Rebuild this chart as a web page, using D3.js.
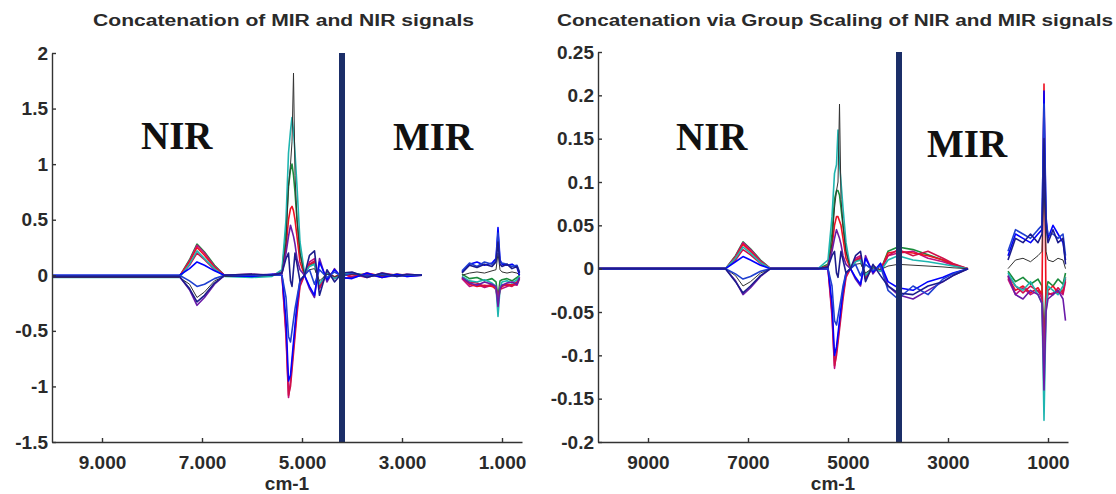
<!DOCTYPE html>
<html>
<head>
<meta charset="utf-8">
<script src="https://cdn.jsdelivr.net/npm/d3@7"></script>
<style>
  body { margin: 0; background: #fff; }
  svg { display: block; }
  .tick text { font-family: "Liberation Sans", Arial, sans-serif; font-weight: bold; font-size: 19px; fill: #2a2a2a; }
</style>
</head>
<body>
<svg id="chart" width="1116" height="494"></svg>
<script>
// wavenumbers shared by both panels (cm-1), null values mark the gap 2600..1800
var wavenumbers = [10000, 8000, 7450, 7250, 7100, 6950, 6750, 6550, 6000, 5600,
  5400, 5320, 5270, 5230, 5200, 5170, 5140, 5100, 5040, 4950,
  4850, 4750, 4650, 4500, 4350, 4200, 4000, 3700, 3400, 3100,
  2900, 2600, 2200, 1800, 1650, 1500, 1350, 1200, 1120, 1080,
  1040, 1000, 900, 800, 700, 650];

var seriesColors = ["#1a8c3c", "#c01080", "#ee1122", "#d0104a", "#1fb5b0",
  "#333333", "#6a1aa8", "#0000ff", "#2040d0", "#1c1c8c"];

// left panel: plain concatenation
var leftGreen = [-0.01, -0.01, -0.01, 0.14, 0.28, 0.21, 0.09, 0, 0, 0, 0.03, 0.4, 0.8, 0.95, 1.0, 0.9, 0.75, 0.5, 0.2, 0.01, 0.09, 0.11, -0.09, 0.02, -0.02, 0.02, 0.02, 0, -0.01, 0.01, 0, 0, null, 0.01, -0.03, -0.02, -0.05, -0.03, -0.06, -0.2, -0.05, -0.04, -0.03, -0.05, -0.02, 0];
var leftMagenta = [-0.01, -0.01, -0.01, 0.13, 0.27, 0.2, 0.08, 0, 0.01, 0, 0, -0.55, -1.1, -0.95, -0.8, -0.65, -0.5, -0.3, -0.08, 0, 0.12, 0.15, -0.12, 0.02, -0.03, 0.01, 0.01, -0.02, 0.02, 0, 0.01, 0, null, -0.03, -0.1, -0.08, -0.11, -0.09, -0.13, -0.25, -0.1, -0.12, -0.1, -0.08, -0.09, -0.03];
var leftRed = [-0.01, -0.01, -0.01, 0.12, 0.25, 0.18, 0.07, 0, 0, 0, 0.02, 0.25, 0.5, 0.6, 0.62, 0.58, 0.5, 0.35, 0.12, 0, 0.1, 0.12, -0.1, 0.03, -0.02, 0.02, -0.02, 0.02, -0.01, 0.01, 0, 0, null, -0.02, -0.08, -0.1, -0.09, -0.1, -0.12, -0.22, -0.14, -0.1, -0.08, -0.09, -0.06, -0.02];
var leftCrimson = [-0.01, -0.01, -0.01, 0.09, 0.2, 0.14, 0.05, 0, 0, 0, 0, -0.5, -1.08, -1.0, -0.85, -0.7, -0.55, -0.35, -0.1, 0, 0.1, 0.13, -0.11, 0.03, -0.02, 0.01, -0.01, 0.01, 0, 0, 0, 0, null, -0.02, -0.06, -0.07, -0.1, -0.08, -0.11, -0.2, -0.13, -0.09, -0.09, -0.1, -0.07, -0.02];
var leftCyan = [-0.02, -0.02, -0.02, 0.1, 0.22, 0.15, 0.06, -0.01, -0.02, -0.01, 0.05, 0.5, 1.1, 1.3, 1.42, 1.3, 1.1, 0.8, 0.3, 0.02, 0.08, 0.1, -0.08, 0.02, -0.03, 0.01, 0.02, -0.01, 0.01, 0, 0, 0, null, -0.01, -0.05, -0.06, -0.04, -0.07, -0.1, -0.37, -0.12, -0.06, -0.05, -0.07, -0.04, -0.01];
var leftGray = [-0.02, -0.02, -0.02, -0.08, -0.2, -0.15, -0.05, -0.01, -0.01, 0, 0.02, 0.3, 0.8, 1.0, 1.2, 1.82, 0.9, 0.5, 0.2, 0, 0.05, 0.06, -0.05, 0.01, -0.01, 0, 0.01, 0, 0, 0, 0, 0, null, 0, 0.02, 0.03, 0.02, 0.04, 0.05, 0.2, 0.05, 0.03, 0.02, 0.03, 0.02, 0];
var leftPurple = [-0.01, -0.01, -0.01, -0.13, -0.27, -0.2, -0.08, 0, 0, 0.01, 0.02, 0.2, 0.35, 0.45, 0.4, 0.35, 0.28, 0.15, 0.05, 0, -0.12, -0.2, 0.15, -0.06, 0.06, -0.03, -0.02, 0.01, -0.02, 0, -0.01, 0, null, -0.02, -0.07, -0.09, -0.06, -0.08, -0.1, -0.28, -0.12, -0.09, -0.07, -0.06, -0.08, -0.02];
var leftBlue = [0, 0, 0, 0.06, 0.12, 0.09, 0.04, 0, -0.01, 0.01, 0, -0.4, -0.95, -0.9, -0.75, -0.6, -0.45, -0.25, -0.05, 0, -0.1, -0.18, 0.12, -0.04, 0.05, -0.02, -0.03, 0.02, -0.02, 0.01, -0.01, 0, null, 0.03, 0.1, 0.12, 0.09, 0.11, 0.15, 0.43, 0.14, 0.1, 0.09, 0.1, 0.07, 0];
var leftRoyal = [0, 0, 0, -0.05, -0.1, -0.08, -0.03, 0, 0, 0, 0, -0.2, -0.55, -0.6, -0.5, -0.4, -0.3, -0.2, -0.05, 0, 0.05, -0.08, 0.05, -0.02, 0.03, -0.01, 0.02, -0.01, 0.01, -0.01, 0, 0, null, 0.04, 0.11, 0.08, 0.12, 0.1, 0.13, 0.38, 0.12, 0.11, 0.1, 0.08, 0.09, 0.03];
var leftNavy = [-0.01, -0.01, -0.01, -0.12, -0.24, -0.18, -0.07, 0, 0.01, 0, 0.02, 0.15, 0.2, -0.05, -0.1, 0.05, 0.2, 0.1, -0.05, 0, 0.18, 0.22, -0.18, 0.05, -0.06, 0.02, 0.03, -0.02, 0.02, -0.01, 0.01, 0, null, 0.02, 0.09, 0.07, 0.1, 0.08, 0.12, 0.3, 0.1, 0.08, 0.1, 0.06, 0.08, 0.02];

// right panel: group scaling
var rightGreen = [0, 0, 0, 0.015, 0.031, 0.023, 0.01, 0, 0, 0, 0.005, 0.04, 0.08, 0.09, 0.09, 0.085, 0.07, 0.05, 0.02, 0, 0.009, 0.011, -0.009, 0.002, -0.002, 0.02, 0.025, 0.022, 0.016, 0.01, 0.004, 0, null, -0.003, -0.015, -0.01, -0.018, -0.012, -0.02, -0.08, -0.025, -0.015, -0.02, -0.012, -0.018, -0.005];
var rightMagenta = [0, 0, 0, 0.014, 0.03, 0.022, 0.009, 0, 0, 0, 0, -0.055, -0.115, -0.095, -0.08, -0.065, -0.05, -0.03, -0.008, 0, 0.012, 0.015, -0.012, 0.002, -0.003, 0.015, 0.018, 0.02, 0.012, 0.008, 0.004, 0, null, -0.012, -0.03, -0.022, -0.03, -0.025, -0.035, -0.12, -0.045, -0.03, -0.028, -0.025, -0.03, -0.015];
var rightRed = [0, 0, 0, 0.013, 0.028, 0.02, 0.008, 0, 0, 0, 0.003, 0.025, 0.05, 0.06, 0.06, 0.055, 0.05, 0.035, 0.012, 0, 0.01, 0.012, -0.01, 0.003, -0.002, 0.018, 0.02, 0.018, 0.015, 0.01, 0.005, 0, null, -0.01, -0.025, -0.02, -0.028, -0.022, -0.03, 0.213, -0.04, -0.025, -0.02, -0.028, -0.025, -0.01];
var rightCrimson = [0, 0, 0, 0.01, 0.022, 0.016, 0.006, 0, 0, 0, 0, -0.05, -0.112, -0.1, -0.085, -0.07, -0.055, -0.035, -0.01, 0, 0.01, 0.013, -0.011, 0.003, -0.002, 0.015, 0.022, 0.015, 0.02, 0.012, 0.006, 0, null, -0.008, -0.02, -0.028, -0.02, -0.026, -0.03, -0.1, -0.035, -0.028, -0.03, -0.022, -0.028, -0.012];
var rightCyan = [0, 0, 0, 0.012, 0.025, 0.018, 0.007, 0, 0, 0, 0.01, 0.06, 0.11, 0.12, 0.16, 0.12, 0.1, 0.07, 0.03, 0, 0.008, 0.01, -0.008, 0.002, -0.003, 0.01, 0.015, 0.01, 0.008, 0.005, 0.003, 0, null, -0.005, -0.02, -0.025, -0.015, -0.03, -0.04, -0.175, -0.05, -0.02, -0.025, -0.03, -0.02, -0.01];
var rightGray = [0, 0, 0, -0.008, -0.02, -0.015, -0.005, 0, 0, 0, 0, 0.03, 0.07, 0.09, 0.1, 0.19, 0.08, 0.05, 0.02, 0, 0.005, 0.006, -0.005, 0.001, -0.001, 0.003, 0.005, 0.004, 0.003, 0.002, 0.001, 0, null, 0, 0.01, 0.012, 0.008, 0.015, 0.02, 0.1, 0.02, 0.01, 0.008, 0.012, 0.01, 0];
var rightPurple = [0, 0, 0, -0.014, -0.03, -0.022, -0.009, 0, 0, 0, 0.002, 0.02, 0.035, 0.045, 0.04, 0.035, 0.028, 0.015, 0.005, 0, -0.012, -0.02, 0.015, -0.006, 0.006, -0.02, -0.03, -0.035, -0.025, -0.015, -0.008, 0, null, -0.008, -0.03, -0.035, -0.025, -0.03, -0.04, -0.14, -0.05, -0.035, -0.03, -0.025, -0.035, -0.06];
var rightBlue = [0, 0, 0, 0.008, 0.014, 0.01, 0.004, 0, 0, 0, 0, -0.04, -0.1, -0.09, -0.075, -0.06, -0.045, -0.025, -0.005, 0, -0.01, -0.018, 0.012, -0.004, 0.006, -0.015, -0.022, -0.025, -0.015, -0.01, -0.005, 0, null, 0.015, 0.04, 0.035, 0.03, 0.04, 0.045, 0.205, 0.06, 0.035, 0.05, 0.04, 0.03, 0.01];
var rightRoyal = [0, 0, 0, -0.006, -0.012, -0.009, -0.003, 0, 0, 0, 0, -0.02, -0.06, -0.065, -0.055, -0.045, -0.035, -0.02, -0.005, 0, 0.005, -0.008, 0.005, -0.002, 0.003, -0.025, -0.035, -0.02, -0.03, -0.012, -0.006, 0, null, 0.02, 0.045, 0.04, 0.035, 0.045, 0.05, 0.19, 0.055, 0.04, 0.04, 0.035, 0.04, 0.015];
var rightNavy = [0, 0, 0, -0.015, -0.028, -0.02, -0.008, 0, 0, 0, 0.002, 0.015, 0.02, -0.005, -0.01, 0.005, 0.02, 0.01, -0.005, 0, 0.015, 0.02, -0.015, 0.005, -0.008, -0.02, -0.028, -0.03, -0.02, -0.015, -0.008, 0, null, 0.01, 0.035, 0.03, 0.04, 0.03, 0.04, 0.15, 0.05, 0.03, 0.045, 0.03, 0.035, 0.005];

var leftSeries = [leftGreen, leftMagenta, leftRed, leftCrimson, leftCyan, leftGray, leftPurple, leftBlue, leftRoyal, leftNavy];
var rightSeries = [rightGreen, rightMagenta, rightRed, rightCrimson, rightCyan, rightGray, rightPurple, rightBlue, rightRoyal, rightNavy];

var xTicks = [9000, 7000, 5000, 3000, 1000];
var leftYTicks = [-1.5, -1, -0.5, 0, 0.5, 1, 1.5, 2];
var rightYTicks = [-0.2, -0.15, -0.1, -0.05, 0, 0.05, 0.1, 0.15, 0.2, 0.25];
var splitWavenumbers = [4200, 3980];

var svg = d3.select('#chart');

function drawPanel(p) {
  var x = d3.scaleLinear().domain([10000, 600]).range([p.left, p.right]);
  var y = d3.scaleLinear().domain(p.yDomain).range([442, p.top]);
  var g = svg.append('g');

  // spectra
  var line = d3.line()
    .defined(function (d) { return d[1] != null; })
    .x(function (d) { return x(d[0]); })
    .y(function (d) { return y(d[1]); });
  p.series.forEach(function (s, i) {
    g.append('path')
      .datum(wavenumbers.map(function (w, j) { return [w, s[j]]; }))
      .attr('fill', 'none')
      .attr('stroke', seriesColors[i])
      .attr('stroke-width', i === 5 ? 1 : 1.6)
      .attr('stroke-linejoin', 'round')
      .attr('d', line);
  });

  // NIR / MIR separator
  g.append('line')
    .attr('x1', x(p.split)).attr('x2', x(p.split))
    .attr('y1', y(p.yDomain[1])).attr('y2', y(p.yDomain[0]))
    .attr('stroke', '#1b2e68').attr('stroke-width', 6);

  // axes, matlab style ticks pointing inward
  var xAxis = d3.axisBottom(x).tickValues(xTicks).tickSizeInner(-4).tickSizeOuter(0)
    .tickFormat(p.xFormat);
  var gx = g.append('g').attr('transform', 'translate(0,442)').call(xAxis);
  gx.selectAll('text').attr('dy', null).attr('y', 27);
  var yAxis = d3.axisLeft(y).tickValues(p.yTicks).tickSizeInner(-4).tickSizeOuter(0)
    .tickFormat(function (d) { return String(d); });
  var gy = g.append('g').attr('transform', 'translate(' + p.left + ',0)').call(yAxis);
  gy.selectAll('text').attr('x', -4);
  g.selectAll('.domain, .tick line').attr('stroke', '#333').attr('stroke-width', 1.4);

  g.append('text')
    .attr('x', (p.left + p.right) / 2).attr('y', 490)
    .attr('text-anchor', 'middle')
    .style('font-family', '"Liberation Sans", Arial, sans-serif')
    .style('font-weight', 'bold').style('font-size', '19px').style('fill', '#2a2a2a')
    .text('cm-1');

  g.append('text')
    .attr('x', p.titleX).attr('y', 26)
    .attr('textLength', p.titleW).attr('lengthAdjust', 'spacingAndGlyphs')
    .style('font-family', '"Liberation Sans", Arial, sans-serif')
    .style('font-weight', 'bold').style('font-size', '16px').style('fill', '#2a2a2a')
    .text(p.title);

  p.regions.forEach(function (r) {
    g.append('text')
      .attr('x', r.x).attr('y', r.y)
      .style('font-family', '"Liberation Serif", "Times New Roman", serif')
      .style('font-weight', 'bold').style('font-size', '39px').style('fill', '#111')
      .text(r.label);
  });
}

drawPanel({
  left: 52, right: 522, top: 53,
  yDomain: [-1.5, 2], yTicks: leftYTicks, series: leftSeries,
  split: splitWavenumbers[0],
  xFormat: function (d) { return d3.format(',')(d).replace(',', '.'); },
  title: 'Concatenation of MIR and NIR signals', titleX: 93, titleW: 381,
  regions: [{ label: 'NIR', x: 141, y: 149 }, { label: 'MIR', x: 393, y: 150 }]
});

drawPanel({
  left: 598, right: 1068, top: 52,
  yDomain: [-0.2, 0.25], yTicks: rightYTicks, series: rightSeries,
  split: splitWavenumbers[1],
  xFormat: function (d) { return String(d); },
  title: 'Concatenation via Group Scaling of NIR and MIR signals', titleX: 557, titleW: 556,
  regions: [{ label: 'NIR', x: 676, y: 150 }, { label: 'MIR', x: 927, y: 157 }]
});
</script>
</body>
</html>
